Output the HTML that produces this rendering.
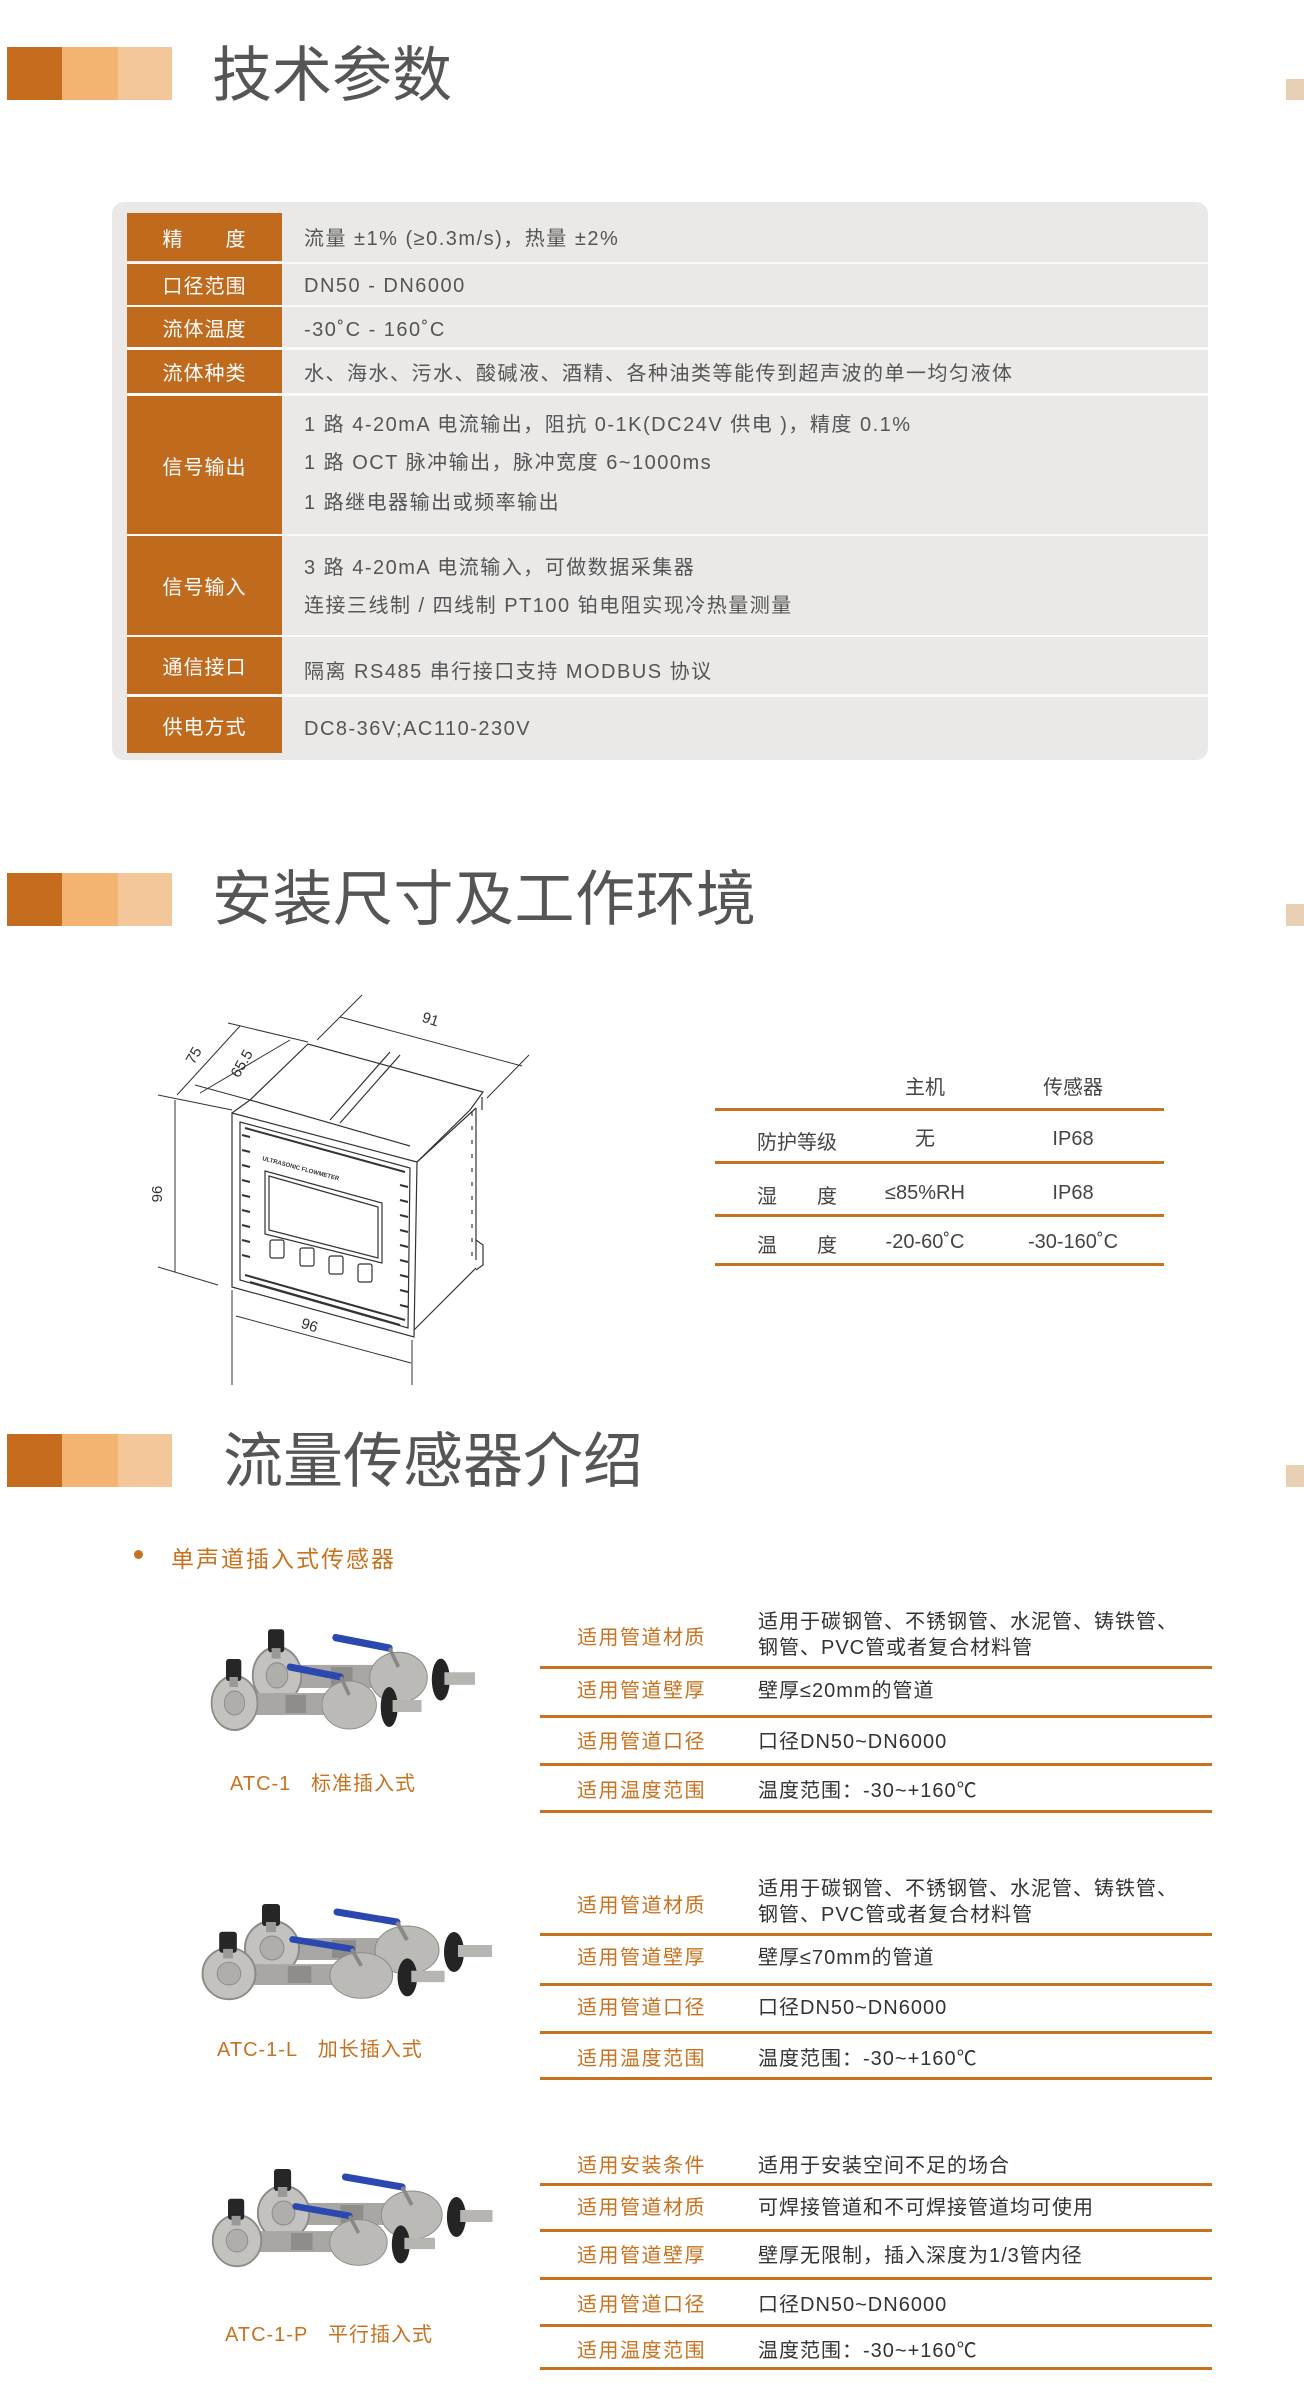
<!DOCTYPE html>
<html><head><meta charset="utf-8"><style>
*{margin:0;padding:0;box-sizing:border-box}
body{width:1304px;height:2408px;background:#fff;position:relative;overflow:hidden;font-family:"Liberation Sans","Noto Sans CJK SC",sans-serif;color:#4a4a4a}
.a{position:absolute;white-space:nowrap}
.bar{position:absolute;height:53px}
.t{position:absolute;font-size:60px;color:#555;line-height:60px;white-space:nowrap}
.lb{position:absolute;left:127px;width:155px;background:#c06a1e;color:#fff;font-size:20px;display:flex;align-items:center;justify-content:center;letter-spacing:1px}
.v{position:absolute;left:304px;font-size:20px;letter-spacing:1.5px;color:#555;line-height:26px;white-space:nowrap}
.ol{position:absolute;left:577px;font-size:20px;letter-spacing:1.5px;color:#c8711f;line-height:26px;white-space:nowrap}
.ov{position:absolute;left:758px;font-size:20px;letter-spacing:1px;color:#333;line-height:26px;white-space:nowrap}
.hl{position:absolute;left:540px;width:672px;height:3px;background:#c8711f}
.cap{position:absolute;font-size:20px;color:#c8711f;letter-spacing:1px;white-space:nowrap;line-height:26px}
.c2{position:absolute;font-size:20px;color:#444;line-height:26px;white-space:nowrap;transform:translateX(-50%)}
</style></head><body>

<div class="bar" style="left:7px;top:47px;width:55px;background:#c46b1e"></div>
<div class="bar" style="left:62px;top:47px;width:56px;background:#f3b371"></div>
<div class="bar" style="left:118px;top:47px;width:54px;background:#f4c79b"></div>
<div class="t" style="left:212px;top:46px">技术参数</div>
<div class="a" style="left:1286px;top:79px;width:18px;height:21px;background:#e8d0b4"></div>

<div class="bar" style="left:7px;top:873px;width:55px;background:#c46b1e"></div>
<div class="bar" style="left:62px;top:873px;width:56px;background:#f3b371"></div>
<div class="bar" style="left:118px;top:873px;width:54px;background:#f4c79b"></div>
<div class="t" style="left:212px;top:870px;letter-spacing:0.5px">安装尺寸及工作环境</div>
<div class="a" style="left:1286px;top:904px;width:18px;height:22px;background:#e8d0b4"></div>

<div class="bar" style="left:7px;top:1434px;width:55px;height:53px;background:#c46b1e"></div>
<div class="bar" style="left:62px;top:1434px;width:56px;height:53px;background:#f3b371"></div>
<div class="bar" style="left:118px;top:1434px;width:54px;height:53px;background:#f4c79b"></div>
<div class="t" style="left:223px;top:1432px">流量传感器介绍</div>
<div class="a" style="left:1286px;top:1465px;width:18px;height:22px;background:#e8d0b4"></div>

<div class="a" style="left:112px;top:202px;width:1096px;height:558px;background:#eae9e8;border-radius:12px"></div>
<div class="a" style="left:127px;top:262px;width:1081px;height:2px;background:#fafafa"></div>
<div class="a" style="left:127px;top:305px;width:1081px;height:2px;background:#fafafa"></div>
<div class="a" style="left:127px;top:347px;width:1081px;height:3px;background:#fafafa"></div>
<div class="a" style="left:127px;top:393px;width:1081px;height:3px;background:#fafafa"></div>
<div class="a" style="left:127px;top:534px;width:1081px;height:2px;background:#fafafa"></div>
<div class="a" style="left:127px;top:635px;width:1081px;height:2px;background:#fafafa"></div>
<div class="a" style="left:127px;top:694px;width:1081px;height:3px;background:#fafafa"></div>

<div class="lb" style="top:213px;height:48px">精　　度</div>
<div class="lb" style="top:264px;height:41px">口径范围</div>
<div class="lb" style="top:307px;height:40px">流体温度</div>
<div class="lb" style="top:350px;height:43px">流体种类</div>
<div class="lb" style="top:396px;height:138px">信号输出</div>
<div class="lb" style="top:536px;height:99px">信号输入</div>
<div class="lb" style="top:637px;height:57px">通信接口</div>
<div class="lb" style="top:697px;height:56px">供电方式</div>

<div class="v" style="top:226px">流量 ±1% (≥0.3m/s)，热量 ±2%</div>
<div class="v" style="top:273px">DN50 - DN6000</div>
<div class="v" style="top:317px">-30˚C - 160˚C</div>
<div class="v" style="top:361px">水、海水、污水、酸碱液、酒精、各种油类等能传到超声波的单一均匀液体</div>
<div class="v" style="top:412px">1 路 4-20mA 电流输出，阻抗 0-1K(DC24V 供电 )，精度 0.1%</div>
<div class="v" style="top:450px">1 路 OCT 脉冲输出，脉冲宽度 6~1000ms</div>
<div class="v" style="top:490px">1 路继电器输出或频率输出</div>
<div class="v" style="top:555px">3 路 4-20mA 电流输入，可做数据采集器</div>
<div class="v" style="top:593px">连接三线制 / 四线制 PT100 铂电阻实现冷热量测量</div>
<div class="v" style="top:659px">隔离 RS485 串行接口支持 MODBUS 协议</div>
<div class="v" style="top:716px">DC8-36V;AC110-230V</div>

<div class="c2" style="left:925px;top:1075px">主机</div>
<div class="c2" style="left:1073px;top:1075px">传感器</div>
<div class="a" style="left:715px;top:1108px;width:449px;height:3px;background:#c8711f"></div>
<div class="a" style="left:715px;top:1161px;width:449px;height:3px;background:#c8711f"></div>
<div class="a" style="left:715px;top:1214px;width:449px;height:3px;background:#c8711f"></div>
<div class="a" style="left:715px;top:1263px;width:449px;height:3px;background:#c8711f"></div>
<div class="a" style="left:757px;top:1126px;font-size:20px;color:#444">防护等级</div>
<div class="a" style="left:757px;top:1180px;font-size:20px;color:#444">湿　　度</div>
<div class="a" style="left:757px;top:1229px;font-size:20px;color:#444">温　　度</div>
<div class="c2" style="left:925px;top:1126px">无</div>
<div class="c2" style="left:1073px;top:1126px">IP68</div>
<div class="c2" style="left:925px;top:1180px">≤85%RH</div>
<div class="c2" style="left:1073px;top:1180px">IP68</div>
<div class="c2" style="left:925px;top:1229px">-20-60˚C</div>
<div class="c2" style="left:1073px;top:1229px">-30-160˚C</div>

<div class="a" style="left:134px;top:1550px;width:9px;height:9px;border-radius:50%;background:#c8711f"></div>
<div class="a" style="left:171px;top:1540px;font-size:23px;letter-spacing:2px;color:#c8711f">单声道插入式传感器</div>

<div class="ol" style="top:1625px">适用管道材质</div>
<div class="ov" style="top:1609px">适用于碳钢管、不锈钢管、水泥管、铸铁管、</div>
<div class="ov" style="top:1635px">钢管、PVC管或者复合材料管</div>
<div class="hl" style="top:1666px"></div>
<div class="ol" style="top:1678px">适用管道壁厚</div><div class="ov" style="top:1678px">壁厚≤20mm的管道</div>
<div class="hl" style="top:1715px"></div>
<div class="ol" style="top:1729px">适用管道口径</div><div class="ov" style="top:1729px">口径DN50~DN6000</div>
<div class="hl" style="top:1763px"></div>
<div class="ol" style="top:1778px">适用温度范围</div><div class="ov" style="top:1778px">温度范围：-30~+160℃</div>
<div class="hl" style="top:1810px"></div>
<div class="cap" style="left:230px;top:1771px">ATC-1&nbsp;&nbsp;&nbsp;标准插入式</div>

<div class="ol" style="top:1893px">适用管道材质</div>
<div class="ov" style="top:1876px">适用于碳钢管、不锈钢管、水泥管、铸铁管、</div>
<div class="ov" style="top:1902px">钢管、PVC管或者复合材料管</div>
<div class="hl" style="top:1933px"></div>
<div class="ol" style="top:1945px">适用管道壁厚</div><div class="ov" style="top:1945px">壁厚≤70mm的管道</div>
<div class="hl" style="top:1983px"></div>
<div class="ol" style="top:1995px">适用管道口径</div><div class="ov" style="top:1995px">口径DN50~DN6000</div>
<div class="hl" style="top:2031px"></div>
<div class="ol" style="top:2046px">适用温度范围</div><div class="ov" style="top:2046px">温度范围：-30~+160℃</div>
<div class="hl" style="top:2077px"></div>
<div class="cap" style="left:217px;top:2037px">ATC-1-L&nbsp;&nbsp;&nbsp;加长插入式</div>

<div class="ol" style="top:2153px">适用安装条件</div><div class="ov" style="top:2153px">适用于安装空间不足的场合</div>
<div class="hl" style="top:2183px"></div>
<div class="ol" style="top:2195px">适用管道材质</div><div class="ov" style="top:2195px">可焊接管道和不可焊接管道均可使用</div>
<div class="hl" style="top:2229px"></div>
<div class="ol" style="top:2243px">适用管道壁厚</div><div class="ov" style="top:2243px">壁厚无限制，插入深度为1/3管内径</div>
<div class="hl" style="top:2277px"></div>
<div class="ol" style="top:2292px">适用管道口径</div><div class="ov" style="top:2292px">口径DN50~DN6000</div>
<div class="hl" style="top:2324px"></div>
<div class="ol" style="top:2338px">适用温度范围</div><div class="ov" style="top:2338px">温度范围：-30~+160℃</div>
<div class="hl" style="top:2367px"></div>
<div class="cap" style="left:225px;top:2322px">ATC-1-P&nbsp;&nbsp;&nbsp;平行插入式</div>

<svg class="a" style="left:0;top:0" width="1304" height="2408" viewBox="0 0 1304 2408">
<defs>
<g id="valve">
 <rect x="62" y="38" width="150" height="22" fill="#a9a7a4"/>
 <circle cx="50" cy="48" r="27" fill="#c4c2bf" stroke="#8c8a87" stroke-width="2"/>
 <circle cx="50" cy="48" r="12" fill="#b0aeab" stroke="#8c8a87"/>
 <rect x="40" y="4" width="18" height="22" rx="3" fill="#262626"/>
 <rect x="44" y="22" width="10" height="10" fill="#999"/>
 <ellipse cx="185" cy="50" rx="32" ry="24" fill="#bcbab6" stroke="#8c8a87"/>
 <rect x="110" y="40" width="24" height="18" fill="#8f8d8a"/>
 <ellipse cx="232" cy="52" rx="10" ry="20" fill="#242424"/>
 <rect x="236" y="45" width="34" height="12" fill="#b7b5b2"/>
 <line x1="115" y1="12" x2="175" y2="22" stroke="#2a48b0" stroke-width="7" stroke-linecap="round"/>
 <line x1="175" y1="22" x2="185" y2="40" stroke="#888" stroke-width="4"/>
</g>
</defs>
<use href="#valve" transform="translate(232,1625) scale(0.9,1.05)"/>
<use href="#valve" transform="translate(192,1655) scale(0.85,1.0)"/>
<use href="#valve" transform="translate(222,1900) scale(1.0,1.0)"/>
<use href="#valve" transform="translate(180,1928) scale(0.98,0.95)"/>
<use href="#valve" transform="translate(236,2165) scale(0.95,1.0)"/>
<use href="#valve" transform="translate(192,2195) scale(0.9,0.95)"/>

<g fill="none" stroke="#333" stroke-width="1.2">
 <polygon points="232,1113 417,1162 414,1337 232,1287" fill="#fff"/>
 <polygon points="240,1122 410,1168 408,1328 240,1280"/>
 <polyline points="232,1113 250,1100 308,1044 483,1092 470,1110 417,1162"/>
 <line x1="250" y1="1100" x2="410" y2="1146"/>
 <line x1="330" y1="1120" x2="390" y2="1052"/>
 <line x1="340" y1="1123" x2="400" y2="1055"/>
 <line x1="417" y1="1162" x2="476" y2="1108"/>
 <line x1="476" y1="1108" x2="476" y2="1260"/>
 <line x1="482" y1="1097" x2="482" y2="1110"/>
 <polyline points="476,1240 483,1245 483,1265 476,1270"/>
 <line x1="414" y1="1330" x2="476" y2="1268"/>
 <line x1="472" y1="1112" x2="472" y2="1262" stroke-dasharray="4 10"/>
 <polygon points="265,1171 382,1203 382,1263 265,1234"/>
 <polygon points="269,1176 378,1207 378,1258 269,1230"/>
 <rect x="270" y="1240" width="14" height="18" rx="2"/>
 <rect x="300" y="1248" width="14" height="18" rx="2"/>
 <rect x="329" y="1256" width="14" height="18" rx="2"/>
 <rect x="358" y="1264" width="14" height="18" rx="2"/>
 <g stroke-width="2">
 <line x1="242" y1="1135" x2="250" y2="1137"/><line x1="242" y1="1150" x2="250" y2="1152"/><line x1="242" y1="1165" x2="250" y2="1167"/><line x1="242" y1="1180" x2="250" y2="1182"/><line x1="242" y1="1195" x2="250" y2="1197"/><line x1="242" y1="1210" x2="250" y2="1212"/><line x1="242" y1="1225" x2="250" y2="1227"/><line x1="242" y1="1240" x2="250" y2="1242"/><line x1="242" y1="1255" x2="250" y2="1257"/>
 <line x1="400" y1="1185" x2="408" y2="1187"/><line x1="400" y1="1200" x2="408" y2="1202"/><line x1="400" y1="1215" x2="408" y2="1217"/><line x1="400" y1="1230" x2="408" y2="1232"/><line x1="400" y1="1245" x2="408" y2="1247"/><line x1="400" y1="1260" x2="408" y2="1262"/><line x1="400" y1="1275" x2="408" y2="1277"/><line x1="400" y1="1290" x2="408" y2="1292"/><line x1="400" y1="1305" x2="408" y2="1307"/>
 <line x1="245" y1="1128" x2="405" y2="1172"/><line x1="245" y1="1275" x2="405" y2="1320"/><line x1="250" y1="1282" x2="400" y2="1325"/>
 </g>
 <g stroke-width="1">
 <line x1="362" y1="995" x2="317" y2="1040"/>
 <line x1="529" y1="1055" x2="487" y2="1098"/>
 <line x1="340" y1="1017" x2="522" y2="1066"/>
 <line x1="158" y1="1095" x2="232" y2="1110"/>
 <line x1="228" y1="1023" x2="308" y2="1042"/>
 <line x1="195" y1="1085" x2="250" y2="1100"/>
 <line x1="177" y1="1095" x2="240" y2="1026"/>
 <line x1="200" y1="1093" x2="290" y2="1040"/>
 <line x1="175" y1="1100" x2="175" y2="1272"/>
 <line x1="158" y1="1267" x2="218" y2="1285"/>
 <line x1="236" y1="1316" x2="411" y2="1363"/>
 <line x1="232" y1="1290" x2="232" y2="1385"/>
 <line x1="412" y1="1340" x2="412" y2="1385"/>
 </g>
</g>
<g fill="#333" font-family="Liberation Sans, sans-serif" font-size="15">
 <text x="429" y="1024" transform="rotate(18 429 1024)" text-anchor="middle">91</text>
 <text x="198" y="1058" transform="rotate(-60 198 1058)" text-anchor="middle">75</text>
 <text x="246" y="1066" transform="rotate(-60 246 1066)" text-anchor="middle">65.5</text>
 <text x="162" y="1194" transform="rotate(-90 162 1194)" text-anchor="middle">96</text>
 <text x="308" y="1330" transform="rotate(18 308 1330)" text-anchor="middle">96</text>
 <text x="262" y="1160" transform="rotate(15 262 1160)" font-size="6" font-weight="bold">ULTRASONIC FLOWMETER</text>
</g>
</svg>
</body></html>
